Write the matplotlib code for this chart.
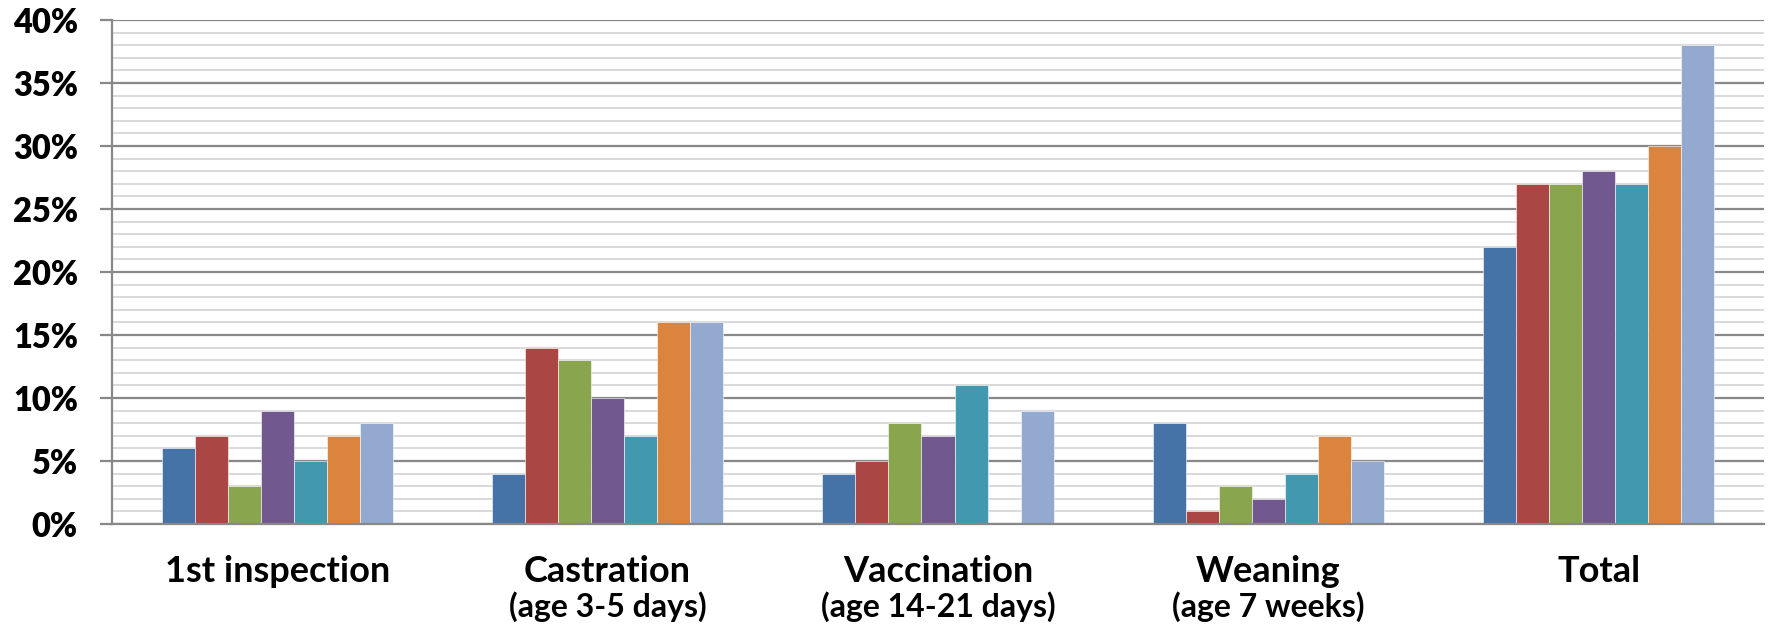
import numpy as np
import matplotlib.pyplot as plt
from matplotlib.ticker import MultipleLocator, FuncFormatter

plt.rcParams['font.family'] = ['Lato', 'DejaVu Sans']
plt.rcParams['font.weight'] = 'bold'

# Data (percent)
categories = ['1st inspection', 'Castration', 'Vaccination', 'Weaning', 'Total']
subtitles = ['', '(age 3-5 days)', '(age 14-21 days)', '(age 7 weeks)', '']
series = [
    [6, 4, 4, 8, 22],
    [7, 14, 5, 1, 27],
    [3, 13, 8, 3, 27],
    [9, 10, 7, 2, 28],
    [5, 7, 11, 4, 27],
    [7, 16, 0, 7, 30],
    [8, 16, 9, 5, 38],
]
colors = ['#4572A7', '#AA4643', '#89A54E', '#71588F', '#4198AF', '#DB843D', '#93A9CF']

fig = plt.figure(figsize=(17.73, 6.27), dpi=100)
ax = fig.add_axes([112 / 1773, 103 / 627, (1764 - 112) / 1773, 504 / 627])

x = np.arange(len(categories))
n = len(series)
w = 0.1
for i, vals in enumerate(series):
    ax.bar(x + (i - (n - 1) / 2) * w, vals, width=w, color=colors[i],
           edgecolor='white', linewidth=0.4, zorder=3)

ax.set_xlim(-0.5, len(categories) - 0.5)
ax.set_ylim(0, 40)
ax.yaxis.set_major_locator(MultipleLocator(5))
ax.yaxis.set_minor_locator(MultipleLocator(1))
ax.yaxis.set_major_formatter(FuncFormatter(lambda v, p: f'{v:.0f}%'))
ax.grid(axis='y', which='minor', color='#d9d9d9', linewidth=1.4, zorder=0)
ax.grid(axis='y', which='major', color='#888888', linewidth=1.6, zorder=1)

for s in ['top', 'right']:
    ax.spines[s].set_visible(False)
for s in ['left', 'bottom']:
    ax.spines[s].set_color('#888888')
    ax.spines[s].set_linewidth(1.6)
ax.spines['bottom'].set_zorder(4)

ax.tick_params(axis='y', which='major', length=8.6, width=1.6, color='#888888',
               labelsize=23.5, pad=16)
ax.tick_params(axis='y', which='minor', length=0)
for lab in ax.get_yticklabels():
    lab.set_fontweight('heavy')
ax.set_xticks([])

tr = ax.get_xaxis_transform()
for i, (c, s) in enumerate(zip(categories, subtitles)):
    ax.text(i, -0.115, c, transform=tr, ha='center', va='baseline',
            fontsize=26, fontweight='bold')
    if s:
        ax.text(i, -0.184, s, transform=tr, ha='center', va='baseline',
                fontsize=23, fontweight='bold')

fig.savefig('out.png', dpi=100, facecolor='white')
